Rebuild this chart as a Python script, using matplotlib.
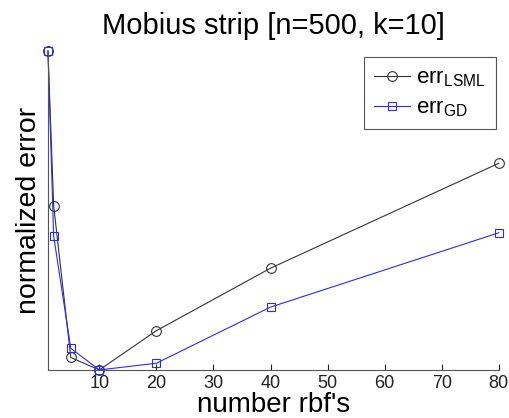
import matplotlib
matplotlib.use("Agg")
import matplotlib.pyplot as plt

plt.rcParams['font.family'] = ['Liberation Sans', 'DejaVu Sans']
plt.rcParams['mathtext.fontset'] = 'custom'
plt.rcParams['mathtext.rm'] = 'Liberation Sans'
plt.rcParams['mathtext.it'] = 'Liberation Sans'

n_rbf = [1, 2, 5, 10, 20, 40, 80]
err_lsml = [1.0, 0.515, 0.039, 0.0, 0.123, 0.319, 0.648]
err_gd = [1.0, 0.42, 0.068, 0.0, 0.021, 0.197, 0.43]
xticks = [10, 20, 30, 40, 50, 60, 70, 80]

fig = plt.figure(figsize=(5.1, 4.18), dpi=100)
ax = fig.add_axes([0.094, 0.115, 0.884, 0.763])

ax.plot(n_rbf, err_lsml, color='#333333', lw=0.8, marker='o', ms=7,
        mfc='none', mec='#333333', mew=0.8, clip_on=False,
        label=r'err$_{\mathrm{LSML}}$')
ax.plot(n_rbf, err_gd, color='#2a2aff', lw=0.8, marker='s', ms=6,
        mfc='none', mec='#2a2aff', mew=0.8, clip_on=False,
        label=r'err$_{\mathrm{GD}}$')

ax.set_xlim(1, 80)
ax.set_ylim(0, 1)
ax.set_xticks(xticks)
ax.set_yticks([])
ax.tick_params(axis='x', direction='in', length=4, labelsize=13,
               colors='#222222', width=0.8, pad=4)
for s in ['top', 'right']:
    ax.spines[s].set_visible(False)
for s in ['left', 'bottom']:
    ax.spines[s].set_color('#555555')
    ax.spines[s].set_linewidth(0.8)

ax.set_title('Mobius strip [n=500, k=10]', fontsize=21, pad=12)
ax.set_xlabel("number rbf's", fontsize=20, labelpad=0)
ax.set_ylabel('normalized error', fontsize=20.5, labelpad=4)

leg = ax.legend(loc='upper right', bbox_to_anchor=(1.018, 1.015), fontsize=16,
                handlelength=1.6, handletextpad=0.3, borderpad=0.45,
                labelspacing=0.4, fancybox=False, framealpha=1,
                edgecolor='#555555')
leg.get_frame().set_linewidth(0.8)

fig.savefig('out.png', dpi=100)
